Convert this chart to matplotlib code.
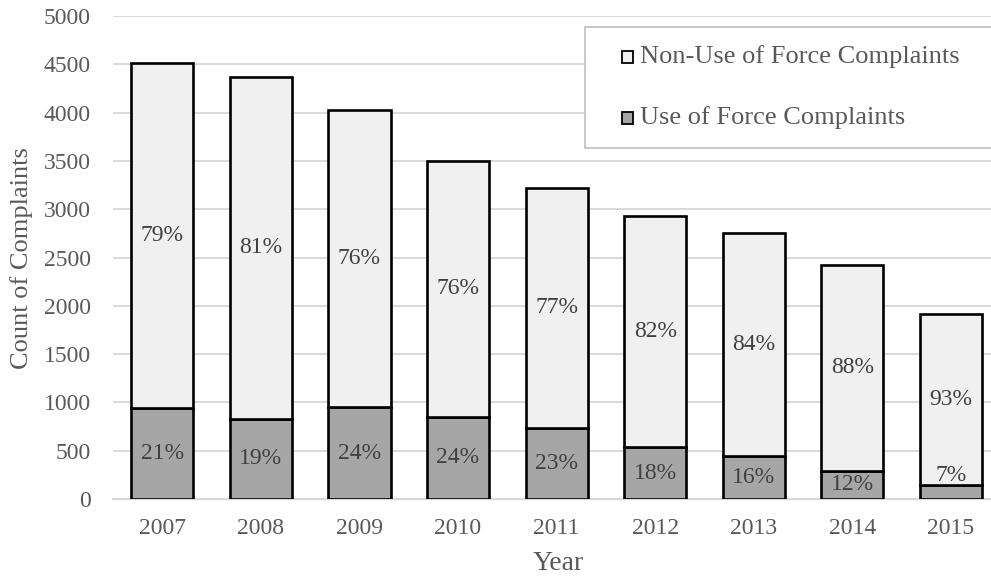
import matplotlib
matplotlib.use("Agg")
import matplotlib.pyplot as plt
from matplotlib.patches import Rectangle

years = ["2007", "2008", "2009", "2010", "2011", "2012", "2013", "2014", "2015"]
use_of_force = [942, 831, 949, 852, 738, 535, 445, 295, 142]
non_use_of_force = [3568, 3541, 3081, 2648, 2485, 2395, 2312, 2127, 1770]
use_pct_labels = ["21%", "19%", "24%", "24%", "23%", "18%", "16%", "12%", "7%"]
non_use_pct_labels = ["79%", "81%", "76%", "76%", "77%", "82%", "84%", "88%", "93%"]
y_ticks = [0, 500, 1000, 1500, 2000, 2500, 3000, 3500, 4000, 4500, 5000]

W, H = 991, 581
SERIF = ["Liberation Serif", "DejaVu Serif"]
TICK_COLOR = "#595959"
LABEL_COLOR = "#404040"
FS = 17

fig = plt.figure(figsize=(W / 100, H / 100), dpi=100)
# axes extend slightly past the right edge of the canvas
ax = fig.add_axes([113 / W, 1 - 499 / H, (1000.3 - 113) / W, (499 - 16) / H])

x = list(range(len(years)))
bar_w = 0.63
edge_lw = 1.9

ax.bar(x, use_of_force, width=bar_w, color="#a6a6a6", edgecolor="black",
       linewidth=edge_lw, zorder=3)
ax.bar(x, non_use_of_force, width=bar_w, bottom=use_of_force, color="#f0f0f0",
       edgecolor="black", linewidth=edge_lw, zorder=3)

for i in x:
    u = use_of_force[i]
    n = non_use_of_force[i]
    # tiny segments get their label just above the segment
    uy = u / 2 if u / 2 >= 100 else u + 100
    ax.text(i, uy, use_pct_labels[i], ha="center", va="center", fontsize=FS,
            family=SERIF, color=LABEL_COLOR, zorder=4)
    ax.text(i, u + n / 2, non_use_pct_labels[i], ha="center", va="center",
            fontsize=FS, family=SERIF, color=LABEL_COLOR, zorder=4)

ax.set_xlim(-0.5, len(years) - 0.5)
ax.set_ylim(0, 5000)
ax.set_yticks(y_ticks)
ax.set_yticklabels([str(t) for t in y_ticks])
ax.set_xticks(x)
ax.set_xticklabels(years)
ax.tick_params(axis="both", length=0, labelsize=FS, colors=TICK_COLOR)
ax.tick_params(axis="y", pad=16)
ax.tick_params(axis="x", pad=14)
for lab in ax.get_xticklabels() + ax.get_yticklabels():
    lab.set_family(SERIF)

ax.grid(axis="y", color="#d9d9d9", linewidth=1.4, zorder=0)
ax.set_axisbelow(True)
for side in ["top", "right", "left"]:
    ax.spines[side].set_visible(False)
ax.spines["bottom"].set_color("#d9d9d9")
ax.spines["bottom"].set_linewidth(1.6)

fig.text(22 / W, 1 - 258 / H, "Count of Complaints", rotation=90, ha="center",
         va="center", fontsize=19, family=SERIF, color=TICK_COLOR)
fig.text(558 / W, 1 - 563 / H, "Year", ha="center", va="center",
         fontsize=20, family=SERIF, color=TICK_COLOR)

# legend box
fig.patches.append(Rectangle((585 / W, 1 - 148 / H), (1005 - 585) / W, (148 - 27) / H,
                             transform=fig.transFigure, facecolor="white",
                             edgecolor="#bfbfbf", linewidth=1.2, zorder=5))
legend_items = [("Non-Use of Force Complaints", "#f0f0f0", 57),
                ("Use of Force Complaints", "#a6a6a6", 118)]
for text, color, yc in legend_items:
    fig.patches.append(Rectangle((622 / W, 1 - (yc + 5.5) / H), 11 / W, 11 / H,
                                 transform=fig.transFigure, facecolor=color,
                                 edgecolor="black", linewidth=1.3, zorder=6))
    fig.text(640 / W, 1 - yc / H, text, ha="left", va="center", fontsize=19,
             family=SERIF, color=TICK_COLOR, zorder=6)

fig.savefig("out.png", dpi=100)
